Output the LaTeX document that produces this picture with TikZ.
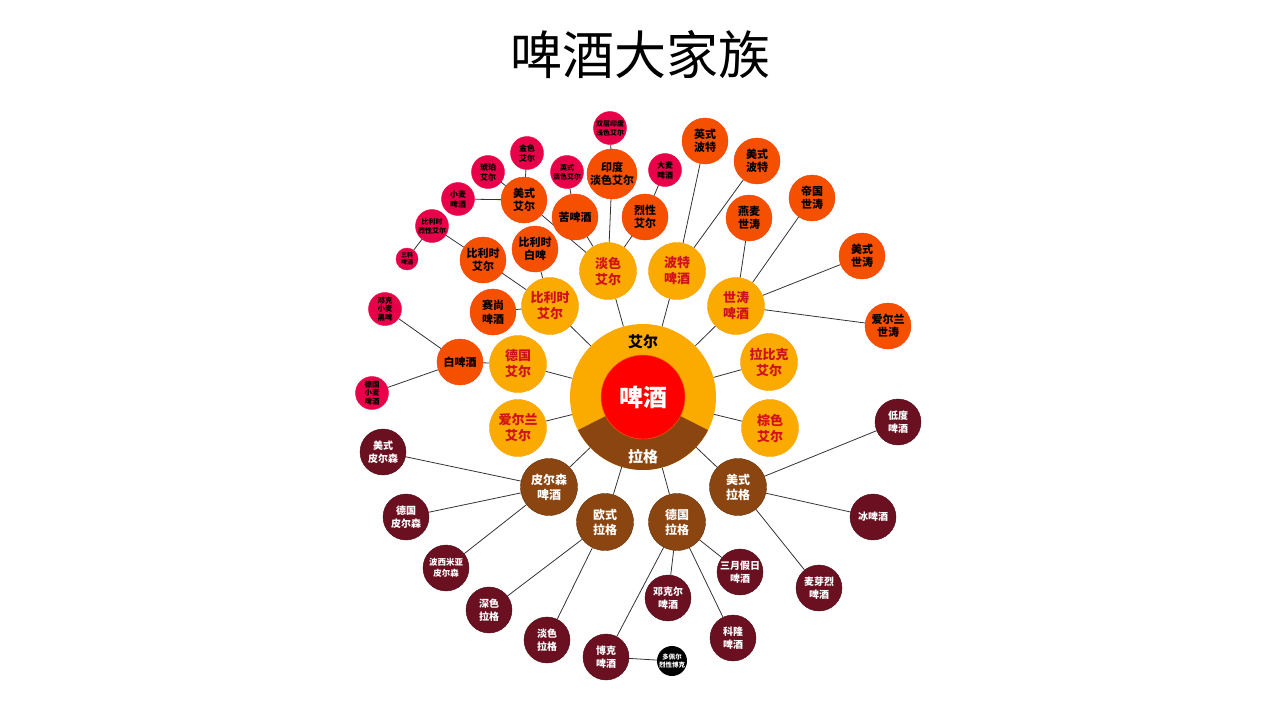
\documentclass[tikz,border=0pt]{standalone}
\usepackage{fontspec}
\setmainfont{Noto Sans CJK SC}
\usetikzlibrary{backgrounds}
\definecolor{aleO}{HTML}{FBAA00}
\definecolor{aleT}{HTML}{D0101A}
\definecolor{oraR}{HTML}{F55000}
\definecolor{crim}{HTML}{E8004A}
\definecolor{brw}{HTML}{8B4510}
\definecolor{dred}{HTML}{6B1020}
\tikzset{
 b/.style 2 args={circle,inner sep=0pt,align=center,font=\fontsize{#1}{#2}\selectfont\bfseries},
 l2/.style={b={13}{16},fill=aleO,text=aleT,minimum size=57pt,draw=aleO!80!orange},
 l3/.style={b={11}{13.5},fill=oraR,text=black,minimum size=46pt,draw=oraR!80!red},
 l4/.style={b={8}{10},fill=crim,text=black,minimum size=33pt,draw=crim!80!red},
 g2/.style={b={12}{15},fill=brw,text=white,minimum size=57pt,draw=brw!70!black},
 g3/.style={b={10}{12.5},fill=dred,text=white,minimum size=46pt,draw=dred!70!black},
 ln/.style={draw=black!80,line width=0.8pt}
}
\begin{document}
\begin{tikzpicture}[x=1pt,y=-1pt]
\useasboundingbox (0,0) rectangle (1280,720);
\node[font=\fontsize{52}{52}\selectfont] (title) at (640,55) {啤酒大家族};
% center
\node[circle,fill=aleO,minimum size=146pt,inner sep=0pt] (ring) at (643,397) {};
\fill[brw] (643,397) -- ++(27:73) arc[start angle=27,end angle=153,radius=73] -- cycle;
\node[circle,fill=red,draw=aleO!60!red,minimum size=84pt,inner sep=0pt,text=white,font=\fontsize{24}{24}\selectfont\bfseries] (beer) at (643,397) {啤酒};
\node[font=\fontsize{15}{15}\selectfont\bfseries] (ale) at (643,342) {艾尔};
\node[font=\fontsize{15}{15}\selectfont\bfseries,text=white] (lager) at (643,457) {拉格};
% ale level 2
\node[l2] (pa) at (608,271) {淡色\\艾尔};
\node[l2] (po) at (677,271) {波特\\啤酒};
\node[l2] (st) at (736,306) {世涛\\啤酒};
\node[l2] (lb) at (769,362) {拉比克\\艾尔};
\node[l2] (br) at (770,428) {棕色\\艾尔};
\node[l2] (ir) at (518,428) {爱尔兰\\艾尔};
\node[l2] (de) at (518,364) {德国\\艾尔};
\node[l2] (be) at (550,306) {比利时\\艾尔};
% ale level 3
\node[l3] (ipa) at (612,174) {印度\\淡色艾尔};
\node[l3] (bit) at (575,217) {苦啤酒};
\node[l3] (strong) at (645,217) {烈性\\艾尔};
\node[l3] (ama) at (524,200) {美式\\艾尔};
\node[l3] (bwh) at (535,249) {比利时\\白啤};
\node[l3] (bal) at (483,260) {比利时\\艾尔};
\node[l3] (sai) at (493,312) {赛尚\\啤酒};
\node[l3] (wb) at (460,362) {白啤酒};
\node[l3] (epo) at (705,141) {英式\\波特};
\node[l3] (apo) at (757,161) {美式\\波特};
\node[l3] (oat) at (749,218) {燕麦\\世涛};
\node[l3] (imp) at (812,198) {帝国\\世涛};
\node[l3] (ast) at (862,256) {美式\\世涛};
\node[l3] (ist) at (888,326) {爱尔兰\\世涛};
% ale level 4
\node[l4,font=\fontsize{7}{9}\selectfont\bfseries] (dipa) at (610,128) {双层印度\\浅色艾尔};
\node[l4] (bar) at (665,170) {大麦\\啤酒};
\node[l4,font=\fontsize{7}{9}\selectfont\bfseries] (epa) at (567,172) {英式\\淡色艾尔};
\node[l4] (gold) at (527,153) {金色\\艾尔};
\node[l4] (amb) at (488,172) {琥珀\\艾尔};
\node[l4] (wh) at (458,199) {小麦\\啤酒};
\node[l4,font=\fontsize{7}{9}\selectfont\bfseries] (bsa) at (432,226) {比利时\\烈性艾尔};
\node[l4,minimum size=22pt,font=\fontsize{6}{7}\selectfont\bfseries] (tri) at (407,259) {三料\\啤酒};
\node[l4,font=\fontsize{7.5}{8.5}\selectfont\bfseries] (dun) at (385,309) {邓克\\小麦\\黑啤};
\node[l4,font=\fontsize{7.5}{8.5}\selectfont\bfseries] (gwh) at (372,393) {德国\\小麦\\啤酒};
% lager level 2
\node[g2] (pil) at (549,487) {皮尔森\\啤酒};
\node[g2] (eul) at (605,522) {欧式\\拉格};
\node[g2] (gel) at (677,522) {德国\\拉格};
\node[g2] (aml) at (738,487) {美式\\拉格};
% lager level 3
\node[g3] (apil) at (383,452) {美式\\皮尔森};
\node[g3] (gpil) at (406,517) {德国\\皮尔森};
\node[g3,font=\fontsize{8.5}{11}\selectfont\bfseries] (bpil) at (446,568) {波西米亚\\皮尔森};
\node[g3] (dark) at (489,610) {深色\\拉格};
\node[g3] (pale) at (547,640) {淡色\\拉格};
\node[g3] (bock) at (606,657) {博克\\啤酒};
\node[circle,fill=black,text=white,minimum size=30pt,inner sep=0pt,align=center,font=\fontsize{6.5}{8}\selectfont\bfseries] (dbk) at (672,661) {多佩尔\\烈性博克};
\node[g3] (dunk) at (668,598) {邓克尔\\啤酒};
\node[g3] (mar) at (740,572) {三月假日\\啤酒};
\node[g3] (kol) at (733,638) {科隆\\啤酒};
\node[g3] (low) at (898,422) {低度\\啤酒};
\node[g3] (ice) at (873,517) {冰啤酒};
\node[g3] (malt) at (819,588) {麦芽烈\\啤酒};
\begin{scope}[on background layer]
\foreach \a/\b in {pa/ring,po/ring,st/ring,lb/ring,br/ring,ir/ring,de/ring,be/ring,
 pil/ring,eul/ring,gel/ring,aml/ring,
 dipa/ipa,ipa/pa,bit/pa,strong/pa,bar/strong,epa/bit,ama/pa,gold/ama,amb/ama,wh/ama,
 tri/bsa,bsa/bal,bal/be,bwh/be,sai/be,wb/de,dun/wb,gwh/wb,
 epo/po,apo/po,oat/st,imp/st,ast/st,ist/st,
 apil/pil,gpil/pil,bpil/pil,dark/eul,pale/eul,bock/gel,bock/dbk,
 dunk/gel,mar/gel,kol/gel,low/aml,ice/aml,malt/aml}
 \draw[ln] (\a) -- (\b);
\end{scope}
\end{tikzpicture}
\end{document}
